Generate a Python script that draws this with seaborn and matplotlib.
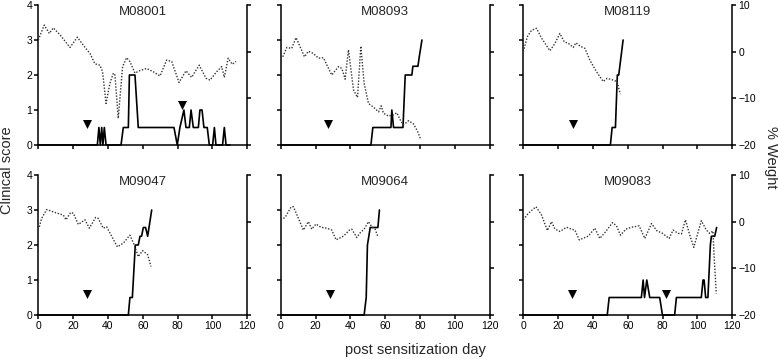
import matplotlib
matplotlib.use("Agg")
import matplotlib.pyplot as plt
import seaborn as sns
import pandas as pd

sns.set_style("ticks")
plt.rcParams['font.family'] = ['Liberation Sans', 'DejaVu Sans']

# ---------------- data ----------------
mice = ["M08001", "M08093", "M08119", "M09047", "M09064", "M09083"]

# clinical score (left axis)
m08001_score_day = [0, 33.9, 34.8, 35.6, 36.4, 37.1, 37.9, 38.9, 47.5, 48.8, 51.7, 52.3, 55.5, 57.4,
                    77.9, 79.8, 81.3, 83.6, 84.8, 86.7, 87.7, 89.0, 91.9, 92.8, 94.0, 95.1, 97.0,
                    98.2, 100.1, 101.1, 102.0, 105.8, 106.8, 107.8, 110]
m08001_score = [0, 0, 0.5, 0, 0.5, 0, 0.5, 0, 0, 0.5, 0.5, 2, 2, 0.5,
                0.5, 0, 0.5, 1, 0.5, 0.5, 1, 0.5, 0.5, 1, 1, 0.5, 0.5,
                0, 0, 0.5, 0, 0, 0.5, 0, 0]
m08093_score_day = [0, 51.8, 52.9, 63.3, 63.8, 64.8, 70.2, 71.5, 75.3, 75.9, 78.8, 79.5, 81.1]
m08093_score = [0, 0, 0.5, 0.5, 1, 0.5, 0.5, 2, 2, 2.25, 2.25, 2.5, 3]
m08119_score_day = [0, 50, 51, 52.9, 54, 54.8, 57.3]
m08119_score = [0, 0, 0.5, 0.5, 2, 2, 3]
m09047_score_day = [0, 51.7, 52.6, 54, 55.7, 57.4, 58.4, 59.3, 60.3, 61.6, 62.8, 65.1]
m09047_score = [0, 0, 0.5, 0.5, 2, 2, 2.25, 2.25, 2.5, 2.5, 2.25, 3]
m09064_score_day = [0, 47.9, 49.1, 49.8, 51.4, 55.8, 56.7]
m09064_score = [0, 0, 0.5, 2, 2.5, 2.5, 3]
m09083_score_day = [0, 48.2, 49.3, 67.8, 68.8, 69.6, 70.9, 72.6, 78.3, 79.9, 86.9, 87.9,
                    102.2, 103.2, 103.8, 104.7, 106.0, 107.4, 108.0, 109.9, 111.0]
m09083_score = [0, 0, 0.5, 0.5, 1, 0.5, 1, 0.5, 0.5, 0, 0, 0.5,
                0.5, 1, 1, 0.5, 0.5, 2, 2.25, 2.25, 2.5]

# % weight change (right axis)
m08001_wt_day = [0, 3.4, 6.3, 8.6, 12.5, 18.2, 22.4, 25.8, 29.7, 32.5, 35.4, 36.9, 38.9, 41.1, 43.1,
                 44.0, 45.9, 48.4, 50.7, 52.6, 55.5, 58.0, 62.2, 66.0, 69.9, 73.7, 76.6, 80.8,
                 84.8, 88.0, 92.4, 96.3, 98.6, 102.4, 105.3, 106.8, 109.0, 111.4, 113.5]
m08001_wt = [2.5, 5.7, 3.9, 5.1, 3.6, 0.9, 3.1, 1.4, -0.4, -2.6, -2.9, -4.3, -11.1, -6.8, -4.6,
             -5.0, -14.3, -3.2, -1.3, -2.1, -4.6, -4.1, -3.6, -4.3, -5.2, -1.8, -2.1, -6.6,
             -4.1, -5.5, -2.9, -5.7, -6.1, -4.3, -3.2, -5.5, -1.4, -2.7, -2.1]
m08093_wt_day = [1.2, 3.5, 6.3, 8.8, 11.1, 13.6, 15.9, 18.8, 21.7, 24.5, 29.3, 33.2, 35.1, 37.0,
                 38.9, 41.8, 44.1, 46.0, 47.9, 50.4, 53.3, 56.2, 57.7, 59.0, 61.9, 64.4, 66.7,
                 68.6, 70.5, 73.4, 76.3, 78.6, 80.5]
m08093_wt = [-1.1, 0.9, 0.7, 3.0, 1.1, -1.1, 0.1, -0.4, -1.4, -1.3, -5.0, -3.2, -3.6, -5.9,
             0.4, -8.2, -9.8, 1.2, -6.8, -11.1, -11.9, -12.9, -11.6, -13.2, -13.8, -13.6, -13.1,
             -14.6, -15.7, -14.8, -15.5, -17.1, -18.9]
m08119_wt_day = [0, 2.3, 4.8, 7.6, 10.5, 15.3, 18.2, 21.0, 23.5, 25.8, 28.7, 30.2, 32.5, 35.4,
                 38.2, 42.0, 45.9, 48.2, 51.6, 53.9, 55.0, 55.8]
m08119_wt = [0, 3.2, 4.6, 5.0, 2.9, 0.2, 1.8, 3.9, 2.1, 1.8, 0.9, 1.9, 1.2, 0.7,
             -1.8, -4.3, -6.4, -5.7, -6.1, -6.4, -8.2, -9.1]
m09047_wt_day = [0.6, 1.9, 4.8, 8.6, 14.4, 15.9, 18.6, 20.1, 23.0, 26.8, 29.3, 32.9, 34.4, 37.3,
                 39.2, 42.1, 45.4, 48.8, 52.6, 55.1, 57.4, 59.9, 62.8, 64.7]
m09047_wt = [-1.1, 0.7, 2.6, 2.1, 1.4, 0.4, 2.0, 1.8, -0.6, 0.4, -1.4, 0.9, 0.7, -1.4,
             -1.1, -3.1, -5.4, -4.6, -2.9, -5.0, -7.5, -6.2, -7.1, -9.6]
m09064_wt_day = [0, 2.5, 5.9, 7.3, 10.2, 13.0, 15.9, 17.8, 20.3, 23.0, 26.5, 29.3, 31.8, 36.0,
                 39.5, 40.8, 43.7, 45.6, 47.9, 50.4, 52.3, 54.2, 55.8]
m09064_wt = [0.4, 0.9, 3.1, 3.2, 0.7, -1.8, 0.0, -1.6, -0.5, -1.2, -1.4, -1.8, -3.9, -3.1,
             -1.8, -1.6, -3.4, -2.4, -1.6, 0.0, -1.1, -1.6, -3.2]
m09083_wt_day = [0, 2.9, 7.3, 10.5, 13.8, 16.2, 18.2, 21.0, 24.9, 27.7, 29.6, 32.1, 37.3, 41.1,
                 43.9, 47.4, 51.2, 53.5, 55.8, 58.9, 62.1, 66.5, 69.8, 73.6, 76.5, 79.9, 83.7,
                 86.0, 88.9, 90.8, 93.1, 95.6, 97.9, 102.2, 105.1, 107.0, 108.9, 109.5, 110.8]
m09083_wt = [0.4, 1.8, 3.2, 1.4, -1.9, 0.0, -1.6, -2.1, -1.2, -1.6, -1.8, -3.9, -3.1, -1.4,
             -3.6, -2.1, -0.2, -0.9, -2.9, -1.6, -1.2, -0.9, -3.6, -0.4, -1.9, -2.5, -3.6,
             -1.8, -2.5, -2.6, 0.4, -2.9, -5.5, 0.2, -1.8, -2.5, -2.0, -7.1, -15.4]

# arrowheads (treatment days) in clinical-score units
m08001_tri_day = [28.1, 82.3]
m08001_tri_y = [0.6, 1.15]
m08093_tri_day = [27.4]
m08093_tri_y = [0.6]
m08119_tri_day = [28.7]
m08119_tri_y = [0.6]
m09047_tri_day = [28.1]
m09047_tri_y = [0.6]
m09064_tri_day = [28.3]
m09064_tri_y = [0.6]
m09083_tri_day = [27.7, 82.2]
m09083_tri_y = [0.6, 0.6]

x_ticks = [0, 20, 40, 60, 80, 100, 120]
score_ticks = [0, 1, 2, 3, 4]
weight_ticks = [-20, -10, 0, 10]

series = {
    "M08001": (m08001_score_day, m08001_score, m08001_wt_day, m08001_wt, m08001_tri_day, m08001_tri_y),
    "M08093": (m08093_score_day, m08093_score, m08093_wt_day, m08093_wt, m08093_tri_day, m08093_tri_y),
    "M08119": (m08119_score_day, m08119_score, m08119_wt_day, m08119_wt, m08119_tri_day, m08119_tri_y),
    "M09047": (m09047_score_day, m09047_score, m09047_wt_day, m09047_wt, m09047_tri_day, m09047_tri_y),
    "M09064": (m09064_score_day, m09064_score, m09064_wt_day, m09064_wt, m09064_tri_day, m09064_tri_y),
    "M09083": (m09083_score_day, m09083_score, m09083_wt_day, m09083_wt, m09083_tri_day, m09083_tri_y),
}

# ---------------- figure ----------------
W, H = 778, 359
fig = plt.figure(figsize=(W / 100, H / 100), dpi=100)

col_left = [38.3, 280.7, 523.3]
row_bottom = [145, 315]
ax_w, ax_h = 209, 140

spine_lw = 1.1
for i, name in enumerate(mice):
    r, c = divmod(i, 3)
    rect = [col_left[c] / W, 1 - row_bottom[r] / H, ax_w / W, ax_h / H]
    ax = fig.add_axes(rect)
    ax2 = ax.twinx()
    sd, sv, wd, wv, td, tv = series[name]

    sns.lineplot(x=sd, y=sv, ax=ax, color="black", linewidth=1.2, estimator=None,
                 sort=False, legend=False, clip_on=False, zorder=3)
    sns.scatterplot(x=td, y=tv, ax=ax, marker="v", s=42, color="black", linewidth=0,
                    legend=False, zorder=4)
    sns.lineplot(x=wd, y=wv, ax=ax2, color="#333333", linewidth=1.0, linestyle=(0, (1, 1.2)),
                 estimator=None, sort=False, legend=False, zorder=2)

    ax.set_xlim(0, 120)
    ax.set_ylim(0, 4)
    ax2.set_ylim(-20, 10)
    ax.set_xticks(x_ticks)
    ax.set_yticks(score_ticks)
    ax2.set_yticks(weight_ticks)
    ax.set_xlabel("")
    ax.set_ylabel("")
    ax2.set_ylabel("")

    for a in (ax, ax2):
        a.spines["top"].set_visible(False)
        for s in a.spines.values():
            s.set_linewidth(spine_lw)
            s.set_color("black")
        a.tick_params(direction="out", length=3, width=spine_lw, labelsize=7.5,
                      colors="black", pad=1.5)
    ax.spines["right"].set_visible(False)
    ax2.spines["left"].set_visible(False)
    ax2.spines["bottom"].set_visible(False)

    if c != 0:
        ax.set_yticklabels([])
    if c != 2:
        ax2.set_yticklabels([])
    if r == 0:
        ax.set_xticklabels([])

    ax.text(0.5, 0.99, name, transform=ax.transAxes, ha="center", va="top", fontsize=9.5)

fig.text(415 / W, 1 - 350 / H, "post sensitization day", ha="center", va="center", fontsize=10.5)
fig.text(7 / W, 1 - 170 / H, "Clinical score", ha="center", va="center", rotation=90, fontsize=10.5)
fig.text(771 / W, 1 - 157 / H, "% Weight", ha="center", va="center", rotation=270, fontsize=10.5)

fig.savefig("out.png", dpi=100)
